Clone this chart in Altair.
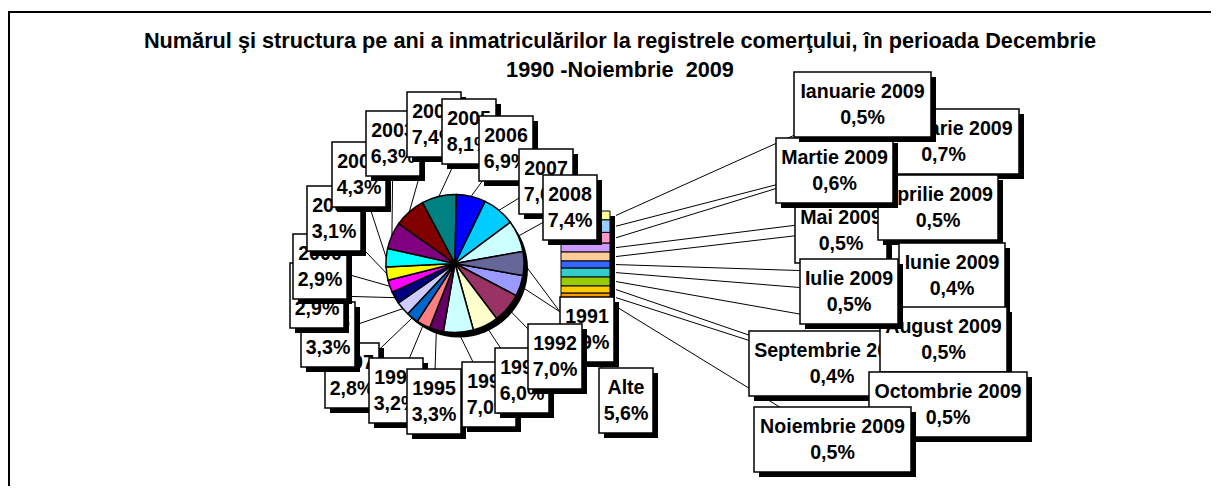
import math
import altair as alt
import pandas as pd

# ---------------- data ----------------
TITLE = [
    "Numărul şi structura pe ani a inmatriculărilor la registrele comerţului, în perioada Decembrie",
    "1990 -Noiembrie\u00a0 2009",
]
YEARS = ["1991", "1992", "1993", "1994", "1995", "1996", "1997", "1998", "1999",
         "2000", "2001", "2002", "2003", "2004", "2005", "2006", "2007", "2008"]
YEAR_PCT = [4.9, 7.0, 6.0, 7.0, 3.3, 3.2, 2.8, 3.3, 2.9,
            2.9, 3.1, 4.3, 6.3, 7.4, 8.1, 6.9, 7.6, 7.4]
OTHER_LABEL = "Alte"
MONTHS = ["Ianuarie 2009", "Februarie 2009", "Martie 2009", "Aprilie 2009", "Mai 2009",
          "Iunie 2009", "Iulie 2009", "August 2009", "Septembrie 2009",
          "Octombrie 2009", "Noiembrie 2009"]
MONTH_PCT = [0.5, 0.7, 0.6, 0.5, 0.5, 0.4, 0.5, 0.5, 0.4, 0.5, 0.5]
OTHER_PCT = round(sum(MONTH_PCT), 1)

# ---------------- styles ----------------
PIE_COLORS = ["#9999FF", "#993366", "#FFFFCC", "#CCFFFF", "#660066", "#FF8080", "#0066CC",
              "#CCCCFF", "#000080", "#FF00FF", "#FFFF00", "#00FFFF", "#800080", "#800000",
              "#008080", "#0000FF", "#00CCFF", "#CCFFFF", "#666699"]
BAR_COLORS = ["#FFFF99", "#99CCFF", "#FF99CC", "#CC99FF", "#FFCC99", "#3366FF",
              "#33CCCC", "#99CC00", "#FFCC00", "#FF9900", "#FF6600"]
FONT = "Liberation Sans"

# ---------------- layout (pixels of the page) ----------------
W, H = 1203, 478
ORIGIN = 8
CX, CY, R = 455, 263.5, 69
PIE_SHADOW = (4, 5)
BAR_X = (561, 610)
BAR_Y = (211, 311)
SHADOW = 5
BOX_H = 65
YEAR_BOX_W = 54
YEAR_BOXES = {
    "1991": (560, 297), "1992": (528, 324), "1993": (495, 348), "1994": (462, 362),
    "1995": (407, 369), "1996": (369, 358), "1997": (325, 343), "1998": (301, 302),
    "1999": (290, 263), "2000": (293, 234), "2001": (307, 186), "2002": (332, 142),
    "2003": (366, 111), "2004": (407, 92), "2005": (442, 99), "2006": (479, 116),
    "2007": (519, 149), "2008": (543, 175), "Alte": (599, 368),
}
MONTH_BOXES = {
    "Ianuarie 2009": (794, 72, 137), "Februarie 2009": (868, 109, 151),
    "Martie 2009": (776, 138, 117), "Aprilie 2009": (878, 175, 120),
    "Mai 2009": (795, 198, 92), "Iunie 2009": (899, 243, 106),
    "Iulie 2009": (800, 259, 98), "August 2009": (880, 307, 127),
    "Septembrie 2009": (749, 331, 166), "Octombrie 2009": (869, 372, 158),
    "Noiembrie 2009": (754, 407, 157),
}
Z_ORDER = ["1997", "1996", "1995", "1994", "1993", "1991", "1992", "1998", "1999", "2000",
           "2001", "2002", "2003", "2004", "2005", "2006", "2007", "2008", "Alte",
           "Februarie 2009", "Mai 2009", "Aprilie 2009", "Martie 2009", "Ianuarie 2009",
           "Iunie 2009", "Septembrie 2009", "August 2009", "Iulie 2009",
           "Octombrie 2009", "Noiembrie 2009"]

XS = alt.Scale(domain=[ORIGIN, ORIGIN + W], range=[0, W], nice=False, zero=False)
YS = alt.Scale(domain=[ORIGIN, ORIGIN + H], range=[0, H], nice=False, zero=False)


def xd(v):
    return alt.XDatum(v, type="quantitative", scale=XS, axis=None)


def yd(v):
    return alt.YDatum(v, type="quantitative", scale=YS, axis=None)


def xf(f):
    return alt.X(f, type="quantitative", scale=XS, axis=None)


def yf(f):
    return alt.Y(f, type="quantitative", scale=YS, axis=None)


def pct_text(v):
    return f"{v:.1f}".replace(".", ",") + "%"


one = pd.DataFrame({"k": [0]})

# ---------------- tables ----------------
pie_names = YEARS + [OTHER_LABEL]
pie_vals = YEAR_PCT + [OTHER_PCT]
TOTAL = sum(pie_vals)
START = math.radians(90 + OTHER_PCT / TOTAL * 180)

pie_df = pd.DataFrame({"name": pie_names, "pct": pie_vals,
                       "idx": list(range(len(pie_names))), "color": PIE_COLORS})
pie_df["ex"] = [YEAR_BOXES[n][0] + YEAR_BOX_W / 2 for n in pie_names]
pie_df["ey"] = [YEAR_BOXES[n][1] + BOX_H / 2 for n in pie_names]

bar_df = pd.DataFrame({"name": MONTHS, "pct": MONTH_PCT,
                       "idx": list(range(len(MONTHS))), "color": BAR_COLORS})
bar_df["ex"] = [MONTH_BOXES[n][0] + MONTH_BOXES[n][2] / 2 for n in MONTHS]
bar_df["ey"] = [MONTH_BOXES[n][1] + BOX_H / 2 for n in MONTHS]

rows = []
for n, v in zip(pie_names, pie_vals):
    l, t = YEAR_BOXES[n]
    rows.append((n, f"{n}\n{pct_text(v)}", l, t, YEAR_BOX_W))
for n, v in zip(MONTHS, MONTH_PCT):
    l, t, w = MONTH_BOXES[n]
    rows.append((n, f"{n}\n{pct_text(v)}", l, t, w))
lab = pd.DataFrame(rows, columns=["key", "label", "l", "t", "w"])
lab["r"] = lab["l"] + lab["w"]
lab["b"] = lab["t"] + BOX_H
lab["sl"] = lab["l"] + SHADOW
lab["sr"] = lab["r"] + SHADOW
lab["st"] = lab["t"] + SHADOW
lab["sb"] = lab["b"] + SHADOW
lab["cx"] = lab["l"] + lab["w"] / 2
lab["ty"] = lab["t"] + 26

# ---------------- layers ----------------
frame_top = alt.Chart(one).mark_rule(color="black", strokeWidth=2).encode(
    x=xd(ORIGIN), x2=alt.X2Datum(ORIGIN + W), y=yd(12))
frame_left = alt.Chart(one).mark_rule(color="black", strokeWidth=2).encode(
    x=xd(9), y=yd(12), y2=alt.Y2Datum(ORIGIN + H))

title = alt.Chart(one).mark_text(
    font=FONT, fontSize=21.7, fontWeight="bold", align="center", baseline="alphabetic",
    lineBreak="\n", lineHeight=28.7, color="black"
).encode(x=xd(620), y=yd(48), text=alt.value("\n".join(TITLE)))

pie_leaders = alt.Chart(pie_df).transform_window(
    cum="sum(pct)", sort=[alt.SortField("idx")]
).transform_calculate(
    ang=f"{START} + (datum.cum - datum.pct / 2) / {TOTAL} * 2 * PI",
    sx=f"{CX} + {R} * sin(datum.ang)",
    sy=f"{CY} - {R} * cos(datum.ang)",
).mark_rule(color="black", strokeWidth=1).encode(
    x=xf("sx"), y=yf("sy"), x2="ex:Q", y2="ey:Q")

k = (BAR_Y[1] - BAR_Y[0]) / OTHER_PCT
bar_leaders = alt.Chart(bar_df).transform_window(
    cum="sum(pct)", sort=[alt.SortField("idx")]
).transform_calculate(
    sx=f"{BAR_X[1] + 6}",
    sy=f"{BAR_Y[0]} + (datum.cum - datum.pct / 2) * {k}",
).mark_rule(color="black", strokeWidth=1).encode(
    x=xf("sx"), y=yf("sy"), x2="ex:Q", y2="ey:Q")

pie_shadow = alt.Chart(one).mark_arc(radius=R, theta=0, theta2=2 * math.pi, color="black").encode(
    x=xd(CX + PIE_SHADOW[0]), y=yd(CY + PIE_SHADOW[1]))

pie = alt.Chart(pie_df).mark_arc(radius=R, stroke="black", strokeWidth=1.5).encode(
    x=xd(CX), y=yd(CY),
    theta=alt.Theta("pct:Q", stack=True,
                    scale=alt.Scale(domain=[0, TOTAL], range=[START, START + 2 * math.pi])),
    order=alt.Order("idx:Q"),
    fill=alt.Fill("color:N", scale=None),
)

bar_shadow = alt.Chart(one).mark_rect(color="black").encode(
    x=xd(BAR_X[0] + SHADOW), x2=alt.X2Datum(BAR_X[1] + SHADOW),
    y=yd(BAR_Y[0] + SHADOW), y2=alt.Y2Datum(BAR_Y[1] + SHADOW))

bar_scale = alt.Scale(domain=[-(BAR_Y[0] - ORIGIN) / k, (ORIGIN + H - BAR_Y[0]) / k],
                      range=[0, H], nice=False, zero=False)
bar = alt.Chart(bar_df).transform_window(
    cum="sum(pct)", sort=[alt.SortField("idx")]
).transform_calculate(c0="datum.cum - datum.pct").mark_rect(
    stroke="black", strokeWidth=1
).encode(
    x=xd(BAR_X[0]), x2=alt.X2Datum(BAR_X[1]),
    y=alt.Y("c0:Q", scale=bar_scale, axis=None), y2="cum:Q",
    fill=alt.Fill("color:N", scale=None),
)

label_layers = []
for key in Z_ORDER:
    base = alt.Chart(lab).transform_filter(alt.datum.key == key)
    sh = base.mark_rect(color="black").encode(x=xf("sl"), x2="sr:Q", y=yf("st"), y2="sb:Q")
    bx = base.mark_rect(fill="white", stroke="black", strokeWidth=1.5).encode(
        x=xf("l"), x2="r:Q", y=yf("t"), y2="b:Q")
    tx = base.mark_text(font=FONT, fontSize=19.6, fontWeight="bold", align="center",
                        baseline="alphabetic", lineBreak="\n", lineHeight=26,
                        color="black").encode(x=xf("cx"), y=yf("ty"), text="label:N")
    label_layers.append(alt.layer(sh, bx, tx))

chart = alt.layer(
    frame_top, frame_left, title, pie_leaders, bar_leaders, pie_shadow, pie,
    bar_shadow, bar, *label_layers
).resolve_scale(y="independent").properties(
    width=W, height=H, padding=0, autosize=alt.AutoSizeParams(type="none")
).configure_view(stroke=None)

chart.save("out.html", embed_options={"renderer": "svg", "actions": False})
